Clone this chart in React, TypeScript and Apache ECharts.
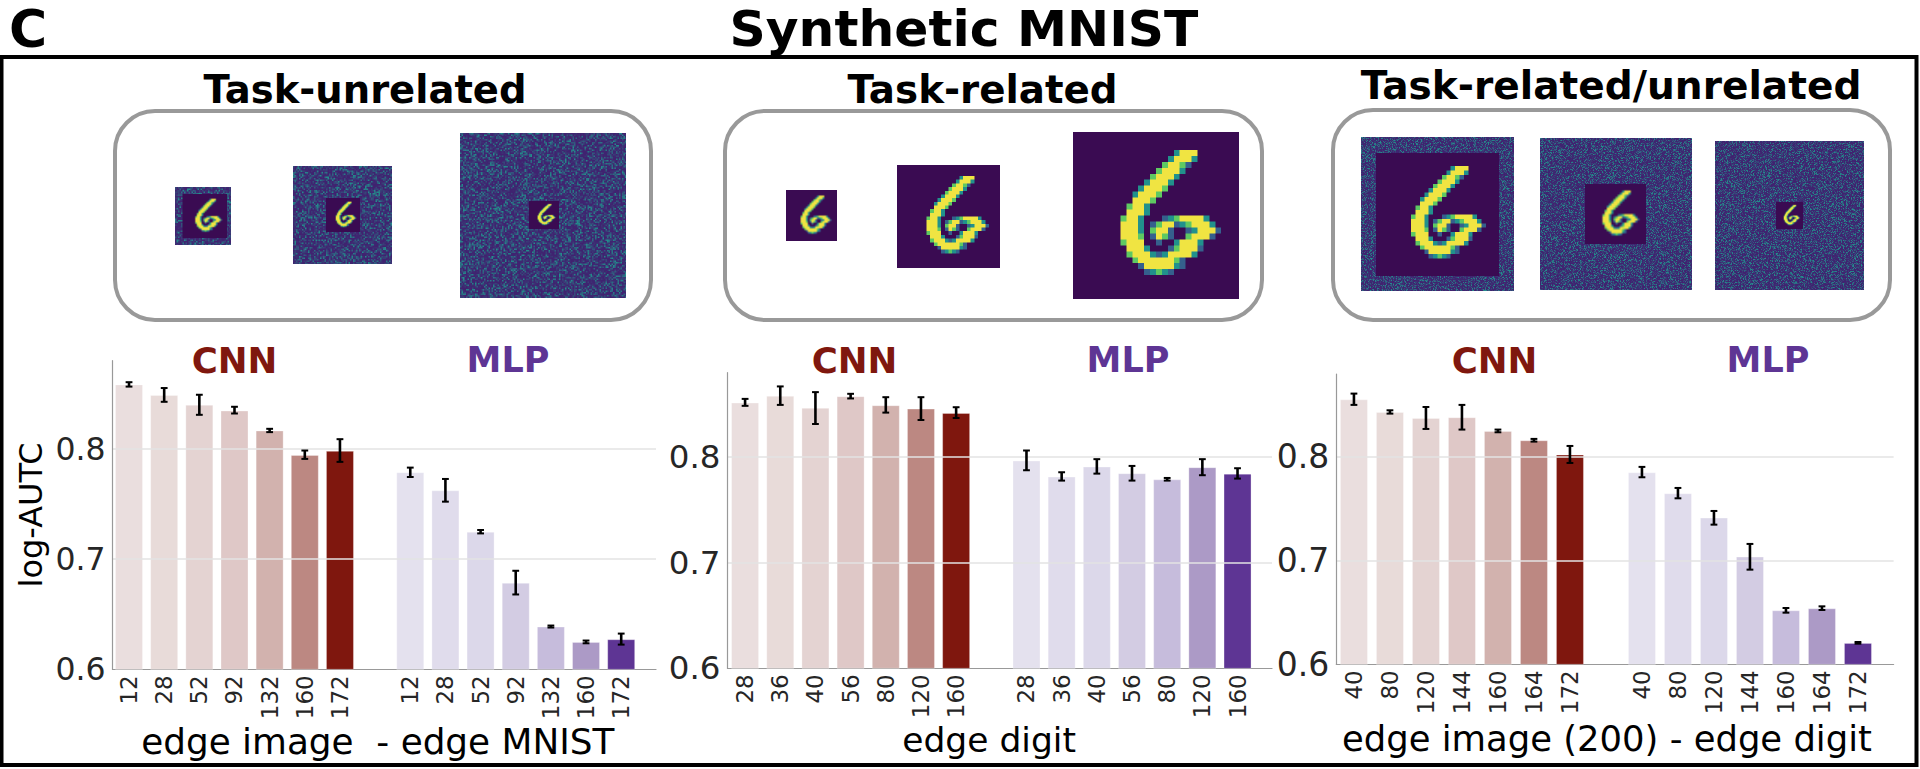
import React, { useEffect, useRef } from "react";
import * as echarts from "echarts";

// ---------- data ----------
const labelsA = ["12", "28", "52", "92", "132", "160", "172"];
const labelsB = ["28", "36", "40", "56", "80", "120", "160"];
const labelsC = ["40", "80", "120", "144", "160", "164", "172"];

const cnnA = [0.8585, 0.8488, 0.84, 0.8348, 0.8167, 0.7945, 0.7982];
const cnnALow = [0.8565, 0.8427, 0.8309, 0.8321, 0.8152, 0.7909, 0.7882];
const cnnAHigh = [0.8605, 0.8552, 0.8491, 0.8382, 0.8182, 0.7985, 0.8088];
const mlpA = [0.7788, 0.7624, 0.7248, 0.6785, 0.6388, 0.6248, 0.6273];
const mlpALow = [0.7745, 0.7521, 0.7233, 0.6679, 0.6379, 0.6236, 0.6224];
const mlpAHigh = [0.783, 0.7727, 0.7264, 0.6894, 0.6397, 0.6261, 0.6324];

const cnnB = [0.8517, 0.8581, 0.8467, 0.8578, 0.8492, 0.846, 0.8419];
const cnnBLow = [0.8486, 0.8495, 0.8314, 0.8556, 0.8422, 0.8352, 0.8371];
const cnnBHigh = [0.8552, 0.867, 0.8616, 0.86, 0.8568, 0.8568, 0.8473];
const mlpB = [0.7968, 0.7816, 0.7911, 0.7848, 0.779, 0.7905, 0.7844];
const mlpBLow = [0.7876, 0.7778, 0.7844, 0.7778, 0.7778, 0.7829, 0.7797];
const mlpBHigh = [0.8063, 0.7857, 0.7981, 0.7917, 0.7803, 0.7981, 0.7895];

const cnnC = [0.8556, 0.8434, 0.8376, 0.8383, 0.8251, 0.8161, 0.8023];
const cnnCLow = [0.8502, 0.8418, 0.827, 0.8264, 0.8238, 0.8148, 0.7942];
const cnnCHigh = [0.8611, 0.845, 0.8482, 0.8502, 0.8264, 0.8174, 0.8106];
const mlpC = [0.7852, 0.765, 0.7415, 0.7039, 0.6521, 0.654, 0.6206];
const mlpCLow = [0.7804, 0.7601, 0.7347, 0.6913, 0.6498, 0.6524, 0.6199];
const mlpCHigh = [0.7904, 0.7701, 0.7479, 0.7161, 0.6543, 0.6559, 0.6215];

const cnnColors = ["#eadede", "#e8dbd9", "#e4d3d2", "#dfc8c7", "#d2b2ae", "#bc8882", "#7f170e"];
const mlpColors = ["#e4e1ee", "#e0dcec", "#dcd8ea", "#d3cce3", "#c6bcdc", "#ac9ac6", "#5e3594"];

// 28x28 glyph of the sample digit, drawn in the image panels
const digitRows = [
  "............................",
  "............................",
  "............................",
  ".................bddd.......",
  "................bdddb.......",
  "...............cddca........",
  "..............cdddb.........",
  ".............cdddb..........",
  "............bdddb...........",
  "...........bdddc............",
  "..........bdddc.............",
  "..........dddc..............",
  ".........cddb...............",
  ".........dddb...............",
  "........cddb...abcddddb.....",
  "........dddb.acddabcdddb....",
  "........dddb.cdda..abddda...",
  "........dddc.adca..cddda....",
  "........cddd..a..bdddb......",
  ".........dddb...acddda......",
  ".........cdddbabddddb.......",
  "..........cddddddca.........",
  "...........adddddba.........",
  "............abcba...........",
  "............................",
  "............................",
  "............................",
  "............................",
];
const digitShades: Record<string, string> = {
  ".": "#3a0b52",
  a: "#35608d",
  b: "#21918c",
  c: "#5ec962",
  d: "#f0e442",
};

// x, y, w, h of the panel, then of the digit square, and the grain size
const imagePanels = [
  [175, 187, 56, 58, 182.5, 194, 44.5, 44, 1.5],
  [293, 166, 99, 98, 326, 198, 34, 34, 1.5],
  [460, 133, 166, 165, 529, 201, 30, 28, 1.5],
  [786, 190, 51, 51, 786, 190, 51, 51, 2],
  [897, 165, 103, 103, 897, 165, 103, 103, 2],
  [1073, 132, 166, 167, 1073, 132, 166, 167, 2],
  [1361, 137, 153, 154, 1376, 153, 123, 123, 1],
  [1540, 138, 152, 152, 1585, 184, 61, 60, 1],
  [1715, 141, 149, 149, 1776, 202, 27, 27, 1],
];

const frames = [
  [115, 111, 536, 209],
  [725, 111, 537, 209],
  [1333, 110, 557, 210],
];

function digitCanvas() {
  const c = document.createElement("canvas");
  c.width = 28;
  c.height = 28;
  const g = c.getContext("2d")!;
  digitRows.forEach((row, r) => {
    for (let k = 0; k < 28; k++) {
      g.fillStyle = digitShades[row[k] || "."];
      g.fillRect(k, r, 1, 1);
    }
  });
  return c;
}

function panelImage(p: number[], seedStart: number, digit: HTMLCanvasElement) {
  const [x, y, w, h, ix, iy, iw, ih, grain] = p;
  const scale = 2;
  const c = document.createElement("canvas");
  c.width = Math.round(w * scale);
  c.height = Math.round(h * scale);
  const g = c.getContext("2d")!;
  let seed = seedStart;
  const next = () => {
    seed = (seed * 1664525 + 1013904223) % 4294967296;
    return seed / 4294967296;
  };
  const cell = grain * scale;
  for (let py = 0; py < c.height; py += cell) {
    for (let px = 0; px < c.width; px += cell) {
      const v = next();
      const t = v * v * v;
      const r = Math.round(64 - 30 * t);
      const gr = Math.round(34 + 110 * t);
      const b = Math.round(112 + 28 * t);
      g.fillStyle = `rgb(${r},${gr},${b})`;
      g.fillRect(px, py, cell + 1, cell + 1);
    }
  }
  g.imageSmoothingEnabled = iw < 100;
  g.drawImage(digit, (ix - x) * scale, (iy - y) * scale, iw * scale, ih * scale);
  return c.toDataURL("image/png");
}

const FONT = "DejaVu Sans";
const TICK = "#262626";
const CNN = "#7f170e";
const MLP = "#5e3594";

type Cfg = {
  left: number; top: number; width: number; height: number; min: number; max: number;
  labels: string[]; cnn: number[]; cnnLow: number[]; cnnHigh: number[];
  mlp: number[]; mlpLow: number[]; mlpHigh: number[];
  title: string; titleSize: number; titleShift: number; titleGap: number; yLabelSize: number; ylabel?: string;
};

const charts: Cfg[] = [
  { left: 112.5, top: 360.7, width: 543.5, height: 308.6, min: -0.47, max: 14.99, labels: labelsA,
    cnn: cnnA, cnnLow: cnnALow, cnnHigh: cnnAHigh, mlp: mlpA, mlpLow: mlpALow, mlpHigh: mlpAHigh,
    title: "edge image  - edge MNIST", titleSize: 35.8, titleShift: 6.5, titleGap: 52, yLabelSize: 31.5, ylabel: "log-AUTC" },
  { left: 727.5, top: 372.7, width: 544.5, height: 295.6, min: -0.5, max: 14.98, labels: labelsB,
    cnn: cnnB, cnnLow: cnnBLow, cnnHigh: cnnBHigh, mlp: mlpB, mlpLow: mlpBLow, mlpHigh: mlpBHigh,
    title: "edge digit", titleSize: 34.5, titleShift: 10.7, titleGap: 52, yLabelSize: 32.5 },
  { left: 1336.3, top: 374, width: 557.3, height: 290.3, min: -0.49, max: 14.99, labels: labelsC,
    cnn: cnnC, cnnLow: cnnCLow, cnnHigh: cnnCHigh, mlp: mlpC, mlpLow: mlpCLow, mlpHigh: mlpCHigh,
    title: "edge image (200) - edge digit", titleSize: 35.4, titleShift: 8, titleGap: 57, yLabelSize: 33 },
];

const cnnXs = [0, 1, 2, 3, 4, 5, 6];
const mlpXs = [8, 9, 10, 11, 12, 13, 14];

const renderError = (_: any, api: any) => {
  const x = api.value(0);
  const lo = api.coord([x, api.value(1)]);
  const hi = api.coord([x, api.value(2)]);
  const cap = 3.4;
  const style = { stroke: "#000", lineWidth: 2.6 };
  const capStyle = { stroke: "#000", lineWidth: 2 };
  return {
    type: "group",
    children: [
      { type: "line", shape: { x1: lo[0], y1: lo[1], x2: hi[0], y2: hi[1] }, style },
      { type: "line", shape: { x1: lo[0] - cap, y1: lo[1], x2: lo[0] + cap, y2: lo[1] }, style: capStyle },
      { type: "line", shape: { x1: hi[0] - cap, y1: hi[1], x2: hi[0] + cap, y2: hi[1] }, style: capStyle },
    ],
  };
};

function headText(text: string, x: number, y: number, size: number, fill = "#000") {
  return {
    type: "text",
    x,
    y,
    style: { text, fill, font: `bold ${size}px "${FONT}"`, textAlign: "center", textVerticalAlign: "middle" },
  };
}

export default function App() {
  const ref = useRef<HTMLDivElement>(null);
  useEffect(() => {
    document.body.style.margin = "0";
    const chart = echarts.init(ref.current!, null, { renderer: "svg" });
    const digit = digitCanvas();

    const images = imagePanels.map((p, i) => ({
      type: "image",
      style: { image: panelImage(p, 1234 + i * 97, digit), x: p[0], y: p[1], width: p[2], height: p[3] },
    }));
    const boxes = frames.map((f) => ({
      type: "rect",
      shape: { x: f[0], y: f[1], width: f[2], height: f[3], r: 40 },
      style: { fill: "none", stroke: "#999999", lineWidth: 4 },
    }));

    const series: any[] = [];
    charts.forEach((c, i) => {
      series.push({
        type: "bar", name: "CNN", xAxisIndex: i, yAxisIndex: i, barWidth: 28, barGap: "-100%", z: 2,
        data: c.cnn.map((v, k) => ({
          value: [cnnXs[k], v],
          itemStyle: { color: cnnColors[k], borderColor: "rgba(255,255,255,0.3)", borderWidth: 1 },
        })),
      });
      series.push({
        type: "bar", name: "MLP", xAxisIndex: i, yAxisIndex: i, barWidth: 28, barGap: "-100%", z: 2,
        data: c.mlp.map((v, k) => ({
          value: [mlpXs[k], v],
          itemStyle: { color: mlpColors[k], borderColor: "rgba(255,255,255,0.3)", borderWidth: 1 },
        })),
      });
      series.push({
        type: "custom", name: "CNN error", xAxisIndex: i, yAxisIndex: i, z: 5, renderItem: renderError,
        encode: { x: 0, y: [1, 2] },
        data: c.cnn.map((_, k) => [cnnXs[k], c.cnnLow[k], c.cnnHigh[k]]),
      });
      series.push({
        type: "custom", name: "MLP error", xAxisIndex: i, yAxisIndex: i, z: 5, renderItem: renderError,
        encode: { x: 0, y: [1, 2] },
        data: c.mlp.map((_, k) => [mlpXs[k], c.mlpLow[k], c.mlpHigh[k]]),
      });
    });

    chart.setOption({
      animation: false,
      backgroundColor: "#fff",
      tooltip: { show: false },
      grid: charts.map((c) => ({ left: c.left, top: c.top, width: c.width, height: c.height })),
      xAxis: charts.map((c, i) => ({
        type: "value",
        gridIndex: i,
        min: c.min,
        max: c.max,
        splitLine: { show: false },
        axisTick: { show: false },
        axisLine: { show: true, onZero: false, lineStyle: { color: "#999", width: 1.2 } },
        axisLabel: {
          show: true,
          customValues: [...cnnXs, ...mlpXs],
          rotate: 90,
          margin: 6,
          color: TICK,
          fontFamily: FONT,
          fontSize: 23,
          formatter: (v: number) => c.labels[v < 7 ? v : v - 8],
        },
        name: c.title,
        nameLocation: "middle",
        nameGap: c.titleGap,
        nameTextStyle: {
          fontFamily: FONT,
          fontSize: c.titleSize,
          color: "#000",
          padding: [0, c.titleShift * 2, 0, 0],
        },
      })),
      yAxis: charts.map((c, i) => ({
        type: "value",
        gridIndex: i,
        min: 0.6,
        max: 0.88,
        interval: 0.1,
        z: 3,
        axisTick: { show: false },
        axisLine: { show: true, onZero: false, lineStyle: { color: "#999", width: 1.2 } },
        splitLine: { show: true, showMinLine: false, showMaxLine: false, lineStyle: { color: "#e3e3e3", width: 1.5 } },
        axisLabel: {
          color: TICK,
          fontFamily: FONT,
          fontSize: c.yLabelSize,
          margin: 7,
          showMaxLabel: false,
          formatter: (v: number) => v.toFixed(1),
        },
        name: c.ylabel || "",
        nameLocation: "middle",
        nameGap: 66,
        nameTextStyle: { fontFamily: FONT, fontSize: 32, color: "#000" },
      })),
      series,
      graphic: {
        elements: [
          { type: "rect", shape: { x: 1.5, y: 57, width: 1915, height: 708 }, style: { fill: "none", stroke: "#000", lineWidth: 4 } },
          headText("C", 28, 29, 52),
          headText("Synthetic MNIST", 964, 28, 50.3),
          headText("Task-unrelated", 365, 89, 38.5),
          headText("Task-related", 982.5, 89, 38.8),
          headText("Task-related/unrelated", 1611, 85, 39.1),
          ...boxes,
          ...images,
          headText("CNN", 234.5, 360, 35.6, CNN),
          headText("MLP", 508, 360, 35, MLP),
          headText("CNN", 854.5, 360, 35.6, CNN),
          headText("MLP", 1128, 360, 35, MLP),
          headText("CNN", 1494.5, 360, 35.6, CNN),
          headText("MLP", 1768, 360, 35, MLP),
        ],
      },
    });
    return () => chart.dispose();
  }, []);
  return <div ref={ref} style={{ position: "fixed", left: 0, top: 0, width: 1920, height: 769 }} />;
}
